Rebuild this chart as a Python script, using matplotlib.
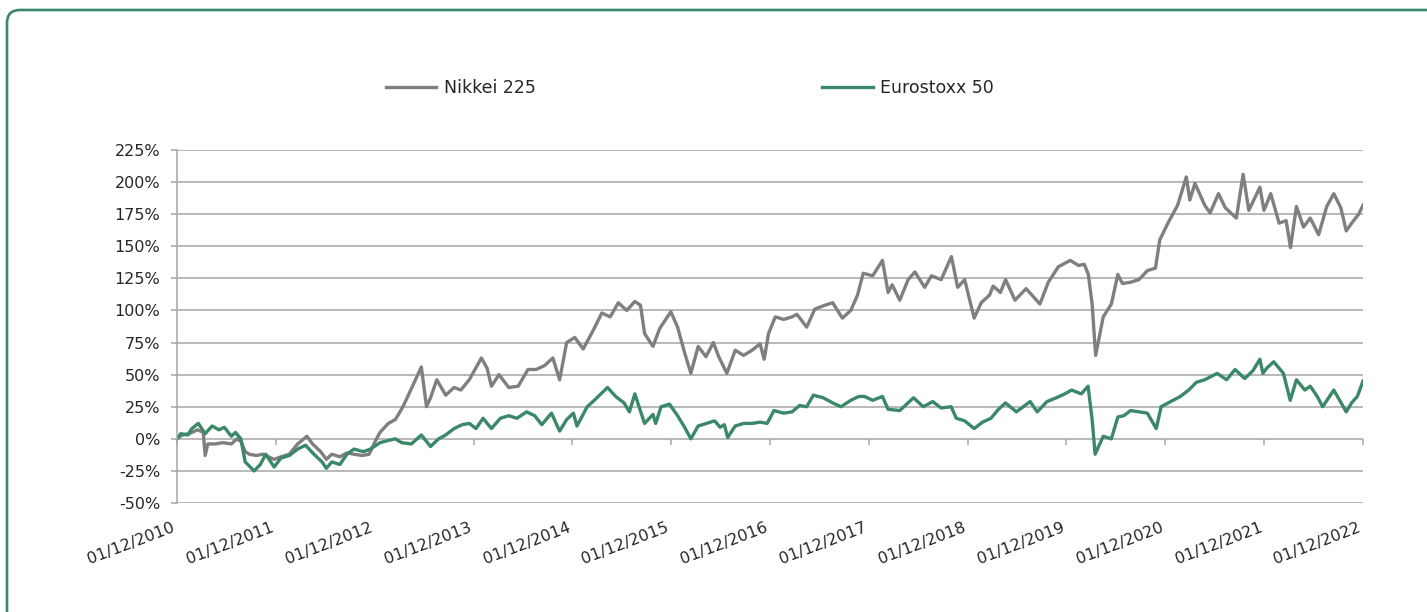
import matplotlib.pyplot as plt
import matplotlib.dates as mdates
from matplotlib.patches import FancyBboxPatch
from matplotlib.transforms import IdentityTransform
import pandas as pd

# performance since 01/12/2010, in %
nikkei_dates = [
    "2010-12-01", "2010-12-20", "2011-01-15", "2011-02-15", "2011-03-08", "2011-03-15",
    "2011-03-25", "2011-04-20", "2011-05-20", "2011-06-20", "2011-07-10", "2011-07-25",
    "2011-08-10", "2011-08-25", "2011-09-20", "2011-10-15", "2011-11-25", "2011-12-20",
    "2012-01-20", "2012-02-20", "2012-03-25", "2012-04-15", "2012-05-15", "2012-06-05",
    "2012-06-25", "2012-07-25", "2012-08-20", "2012-09-15", "2012-10-15", "2012-11-10",
    "2012-11-30", "2012-12-20", "2013-01-20", "2013-02-15", "2013-03-15", "2013-04-15",
    "2013-05-22", "2013-06-10", "2013-06-25", "2013-07-18", "2013-08-20", "2013-09-20",
    "2013-10-15", "2013-11-15", "2013-12-30", "2014-01-20", "2014-02-05", "2014-03-05",
    "2014-04-10", "2014-05-15", "2014-06-20", "2014-07-20", "2014-08-20", "2014-09-20",
    "2014-10-15", "2014-11-10", "2014-12-10", "2015-01-10", "2015-02-15", "2015-03-20",
    "2015-04-20", "2015-05-20", "2015-06-20", "2015-07-20", "2015-08-10", "2015-08-25",
    "2015-09-25", "2015-10-20", "2015-11-30", "2015-12-25", "2016-01-20", "2016-02-12",
    "2016-03-10", "2016-04-08", "2016-05-05", "2016-05-25", "2016-06-24", "2016-07-25",
    "2016-08-25", "2016-09-25", "2016-10-25", "2016-11-09", "2016-11-25", "2016-12-20",
    "2017-01-20", "2017-02-20", "2017-03-10", "2017-04-15", "2017-05-15", "2017-06-20",
    "2017-07-20", "2017-08-25", "2017-09-25", "2017-10-20", "2017-11-10", "2017-12-15",
    "2018-01-20", "2018-02-10", "2018-02-25", "2018-03-25", "2018-04-25", "2018-05-20",
    "2018-06-25", "2018-07-20", "2018-08-25", "2018-10-02", "2018-10-25", "2018-11-20",
    "2018-12-25", "2019-01-20", "2019-02-20", "2019-03-05", "2019-04-01", "2019-04-20",
    "2019-05-25", "2019-07-05", "2019-08-25", "2019-09-25", "2019-11-01", "2019-12-15",
    "2020-01-15", "2020-02-05", "2020-02-20", "2020-03-05", "2020-03-18", "2020-04-15",
    "2020-05-15", "2020-06-08", "2020-06-25", "2020-07-25", "2020-08-25", "2020-09-25",
    "2020-10-25", "2020-11-10", "2020-12-10", "2021-01-15", "2021-02-16", "2021-03-01",
    "2021-03-20", "2021-04-25", "2021-05-15", "2021-06-15", "2021-07-10", "2021-08-20",
    "2021-09-14", "2021-10-05", "2021-11-15", "2021-11-30", "2021-12-25", "2022-01-25",
    "2022-02-20", "2022-03-08", "2022-03-30", "2022-04-25", "2022-05-20", "2022-06-20",
    "2022-07-20", "2022-08-15", "2022-09-10", "2022-09-30", "2022-10-20", "2022-11-15",
    "2022-12-01",
]
nikkei = [
    0, 3, 4, 7, 5, -13,
    -4, -4, -3, -4, 0, -2,
    -10, -12, -13, -12, -16, -14,
    -12, -4, 2, -4, -10, -16,
    -12, -14, -11, -12, -13, -12,
    -3, 5, 12, 15, 25, 39,
    56, 25, 32, 46, 34, 40,
    38, 46, 63, 55, 41, 50,
    40, 41, 54, 54, 57, 63,
    46, 75, 79, 70, 84, 98,
    95, 106, 100, 107, 104, 82,
    72, 86, 99, 87, 67, 51,
    72, 64, 75, 64, 51, 69,
    65, 69, 74, 62, 82, 95,
    93, 95, 97, 87, 101, 104,
    106, 94, 100, 112, 129, 127,
    139, 114, 120, 108, 124, 130,
    118, 127, 124, 142, 118, 124,
    94, 106, 112, 119, 114, 124,
    108, 117, 105, 122, 134, 139,
    135, 136, 128, 105, 65, 95,
    105, 128, 121, 122, 124, 131,
    133, 155, 168, 182, 204, 186,
    199, 182, 176, 191, 180, 172,
    206, 178, 196, 178, 191, 168,
    170, 149, 181, 165, 172, 159,
    181, 191, 180, 162, 168, 175,
    182,
]

euro_dates = [
    "2010-12-01", "2010-12-15", "2011-01-10", "2011-01-25", "2011-02-18", "2011-03-15",
    "2011-04-10", "2011-05-05", "2011-05-25", "2011-06-20", "2011-07-05", "2011-07-25",
    "2011-08-10", "2011-09-12", "2011-10-05", "2011-10-25", "2011-11-25", "2011-12-20",
    "2012-01-20", "2012-02-20", "2012-03-20", "2012-04-20", "2012-05-20", "2012-06-05",
    "2012-06-25", "2012-07-25", "2012-08-20", "2012-09-15", "2012-10-20", "2012-11-15",
    "2012-12-20", "2013-01-25", "2013-02-15", "2013-03-10", "2013-04-15", "2013-05-22",
    "2013-06-25", "2013-07-25", "2013-08-20", "2013-09-20", "2013-10-20", "2013-11-15",
    "2013-12-10", "2014-01-05", "2014-02-05", "2014-03-10", "2014-04-10", "2014-05-10",
    "2014-06-15", "2014-07-15", "2014-08-10", "2014-09-15", "2014-10-15", "2014-11-10",
    "2014-12-05", "2014-12-18", "2015-01-25", "2015-02-20", "2015-04-10", "2015-05-10",
    "2015-06-10", "2015-06-30", "2015-07-20", "2015-08-25", "2015-09-25", "2015-10-05",
    "2015-10-25", "2015-11-25", "2015-12-25", "2016-01-20", "2016-02-12", "2016-03-10",
    "2016-04-10", "2016-05-10", "2016-05-30", "2016-06-15", "2016-06-27", "2016-07-25",
    "2016-08-25", "2016-09-25", "2016-10-25", "2016-11-20", "2016-12-15", "2017-01-20",
    "2017-02-20", "2017-03-20", "2017-04-15", "2017-05-10", "2017-06-15", "2017-07-20",
    "2017-08-20", "2017-09-25", "2017-10-25", "2017-11-15", "2017-12-15", "2018-01-20",
    "2018-02-10", "2018-03-25", "2018-05-15", "2018-06-20", "2018-07-25", "2018-08-25",
    "2018-10-01", "2018-10-20", "2018-11-20", "2018-12-25", "2019-01-25", "2019-02-25",
    "2019-03-25", "2019-04-20", "2019-05-30", "2019-07-20", "2019-08-15", "2019-09-20",
    "2019-10-25", "2019-11-25", "2019-12-20", "2020-01-25", "2020-02-19", "2020-03-05",
    "2020-03-16", "2020-04-15", "2020-05-15", "2020-06-08", "2020-06-30", "2020-07-25",
    "2020-08-25", "2020-09-25", "2020-10-28", "2020-11-15", "2020-12-20", "2021-01-25",
    "2021-02-25", "2021-03-25", "2021-04-25", "2021-06-10", "2021-07-15", "2021-08-15",
    "2021-09-20", "2021-10-20", "2021-11-15", "2021-11-26", "2021-12-10", "2022-01-05",
    "2022-02-10", "2022-03-07", "2022-03-30", "2022-04-30", "2022-05-20", "2022-06-15",
    "2022-07-05", "2022-08-15", "2022-09-30", "2022-10-20", "2022-11-10", "2022-12-01",
]
eurostoxx = [
    0, 4, 3, 8, 12, 4,
    10, 7, 9, 2, 5, 0,
    -18, -25, -20, -12, -22, -15,
    -13, -8, -5, -12, -18, -23,
    -18, -20, -12, -8, -10, -8,
    -3, -1, 0, -3, -4, 3,
    -6, 0, 3, 8, 11, 12,
    8, 16, 8, 16, 18, 16,
    21, 18, 11, 20, 6, 15,
    20, 10, 25, 30, 40, 33,
    28, 21, 35, 12, 19, 12,
    25, 27, 18, 9, 0, 10,
    12, 14, 9, 11, 1, 10,
    12, 12, 13, 12, 22, 20,
    21, 26, 25, 34, 32, 28,
    25, 30, 33, 33, 30, 33,
    23, 22, 32, 25, 29, 24,
    25, 16, 14, 8, 13, 16,
    23, 28, 21, 29, 21, 29,
    32, 35, 38, 35, 41, 15,
    -12, 2, 0, 17, 18, 22,
    21, 20, 8, 25, 29, 33,
    38, 44, 46, 51, 46, 54,
    47, 53, 62, 51, 55, 60,
    51, 30, 46, 38, 41, 33,
    25, 38, 21, 28, 33, 45,
]

year_ticks = [f"{y}-12-01" for y in range(2010, 2023)]

gray = "#7f7f7f"
green = "#3a8868"
grid_col = "#a6a6a6"

fig = plt.figure(figsize=(14.27, 6.12), dpi=100)

# rounded frame in pixel units, only its top-left corner lies inside the picture
frame = FancyBboxPatch((7, -40), 1427 + 40 - 7, 612 - 10 + 40,
                       boxstyle="round,pad=0,rounding_size=13",
                       transform=IdentityTransform(), fill=False,
                       edgecolor=green, linewidth=1.9)
fig.patches.append(frame)

ax = fig.add_axes([177 / 1427, 1 - 503 / 612, (1363 - 177) / 1427, (503 - 150) / 612])

ax.plot(pd.to_datetime(nikkei_dates), nikkei, color=gray, lw=2.4, label="Nikkei 225")
ax.plot(pd.to_datetime(euro_dates), eurostoxx, color=green, lw=2.4, label="Eurostoxx 50")

ax.set_ylim(-50, 225)
ax.set_yticks(range(-50, 226, 25))
ax.set_yticklabels([f"{v}%" for v in range(-50, 226, 25)])
ax.set_xlim(pd.Timestamp("2010-12-01"), pd.Timestamp("2022-12-01"))
ax.set_xticks(pd.to_datetime(year_ticks))
ax.xaxis.set_major_formatter(mdates.DateFormatter("%d/%m/%Y"))

ax.grid(axis="y", color=grid_col, lw=1.1)
ax.set_axisbelow(True)
for s in ["top", "right", "bottom"]:
    ax.spines[s].set_visible(False)
ax.spines["left"].set_color(grid_col)
ax.spines["left"].set_linewidth(1.1)

ax.tick_params(axis="y", length=4, color=grid_col, width=1.1, pad=8,
               labelsize=11.5, labelcolor="#262626")
ax.tick_params(axis="x", length=0, pad=12, labelsize=11.5, labelcolor="#262626")
for lab in ax.get_xticklabels():
    lab.set_rotation(21)
    lab.set_ha("right")

# tick marks sitting on the 0% line
sec = ax.secondary_xaxis(50 / 275)
sec.set_xticks(pd.to_datetime(year_ticks))
sec.tick_params(axis="x", length=4, color=grid_col, width=1.1, labelbottom=False,
                direction="out")
sec.spines["bottom"].set_visible(False)

fig.legend(loc="center", bbox_to_anchor=(690 / 1427, 1 - 88 / 612), ncol=2,
           frameon=False, fontsize=12.5, handlelength=2.9, handletextpad=0.45,
           columnspacing=16.5, labelcolor="#262626")

fig.savefig("out.png", dpi=100)
